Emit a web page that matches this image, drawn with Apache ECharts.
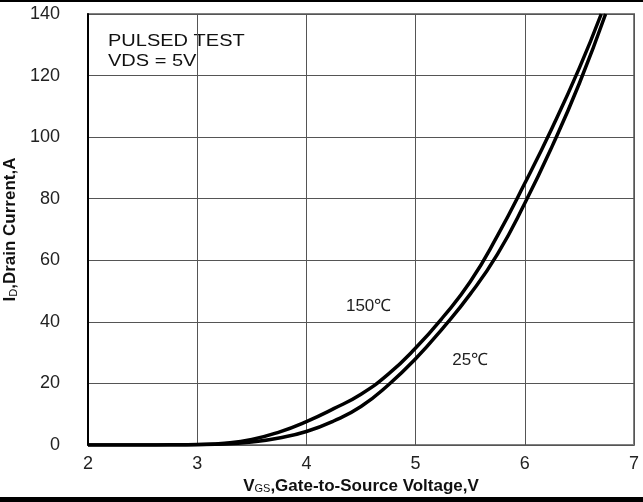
<!DOCTYPE html>
<html>
<head>
<meta charset="utf-8">
<script src="https://cdn.jsdelivr.net/npm/echarts@6/dist/echarts.min.js"></script>
<style>
  html, body { margin: 0; padding: 0; background: #fff; }
  #chart { width: 643px; height: 502px; }
</style>
</head>
<body>
<div id="chart"></div>
<script>
// transfer characteristics
var vgs150 = [2, 2.25, 2.5, 2.75, 3, 3.25, 3.5, 3.75, 4, 4.25, 4.5, 4.75, 5, 5.25, 5.5, 5.75, 6, 6.25, 6.5, 6.7];
var id150 = [0, 0, 0, 0.05, 0.2, 0.6, 1.8, 4.2, 7.6, 11.8, 16.5, 23, 31.5, 41.5, 53, 68, 85, 103, 122.5, 140];
var vgs25 = [2, 2.25, 2.5, 2.75, 3, 3.25, 3.5, 3.75, 4, 4.25, 4.5, 4.75, 5, 5.25, 5.5, 5.75, 6, 6.25, 6.5, 6.74];
var id25 = [0, 0, 0, 0.02, 0.1, 0.3, 1, 2.3, 4.4, 7.8, 12.5, 19.5, 28, 38, 49, 62, 78.5, 97, 117.5, 140];
var xTicks = [2, 3, 4, 5, 6, 7];
var yTicks = [0, 20, 40, 60, 80, 100, 120, 140];
var tempLabels = [
  { name: "150℃", coord: [4.57, 45] },
  { name: "25℃", coord: [5.5, 27.5] }
];

function pairs(xs, ys) {
  return xs.map(function (x, i) { return [x, ys[i]]; });
}

var chart = echarts.init(document.getElementById("chart"));
var font = "'Liberation Sans', Arial, sans-serif";

chart.setOption({
  animation: false,
  grid: {
    left: 88,
    right: 9,
    top: 14,
    bottom: 57,
    outerBoundsMode: "none",
    containLabel: false,
    show: true,
    borderColor: "#808080",
    borderWidth: 2
  },
  xAxis: {
    type: "value",
    min: xTicks[0],
    max: xTicks[xTicks.length - 1],
    interval: 1,
    axisLine: { show: false },
    axisTick: { show: false },
    splitLine: { lineStyle: { color: "#555", width: 1 } },
    axisLabel: { color: "#222", fontSize: 18, fontFamily: font, margin: 10 },
    name: "{b|V}{s|GS}{b|,Gate-to-Source Voltage,V}",
    nameLocation: "middle",
    nameGap: 31,
    nameTextStyle: {
      rich: {
        b: { fontSize: 17, fontWeight: "bold", fontFamily: font, color: "#111" },
        s: { fontSize: 11, fontFamily: font, color: "#111", padding: [6, 0, 0, 0] }
      }
    }
  },
  yAxis: {
    type: "value",
    min: yTicks[0],
    max: yTicks[yTicks.length - 1],
    interval: 20,
    axisLine: { show: true, lineStyle: { color: "#000", width: 2 } },
    axisTick: { show: false },
    splitLine: { lineStyle: { color: "#555", width: 1 } },
    axisLabel: { color: "#222", fontSize: 18, fontFamily: font, margin: 28 },
    name: "{b|I}{s|D}{b|,Drain Current,A}",
    nameLocation: "middle",
    nameGap: 62,
    nameTextStyle: {
      rich: {
        b: { fontSize: 17, fontWeight: "bold", fontFamily: font, color: "#111" },
        s: { fontSize: 11, fontFamily: font, color: "#111", padding: [6, 0, 0, 0] }
      }
    }
  },
  series: [
    {
      name: "150C",
      type: "line",
      smooth: 0.5,
      showSymbol: false,
      data: pairs(vgs150, id150),
      lineStyle: { color: "#000", width: 3.5 },
      markPoint: {
        symbol: "rect",
        symbolSize: 0,
        label: { show: true, position: "inside", formatter: "{b}", color: "#222", fontSize: 17, fontFamily: font },
        data: [tempLabels[0]]
      }
    },
    {
      name: "25C",
      type: "line",
      smooth: 0.5,
      showSymbol: false,
      data: pairs(vgs25, id25),
      lineStyle: { color: "#000", width: 3.5 },
      markPoint: {
        symbol: "rect",
        symbolSize: 0,
        label: { show: true, position: "inside", formatter: "{b}", color: "#222", fontSize: 17, fontFamily: font },
        data: [tempLabels[1]]
      }
    }
  ],
  graphic: [
    { type: "rect", left: 0, top: 0, shape: { width: 643, height: 2 }, style: { fill: "#000" } },
    { type: "rect", left: 0, top: 497, shape: { width: 643, height: 5 }, style: { fill: "#000" } },
    {
      type: "group",
      left: 100,
      top: 28,
      z: 100,
      children: [
        { type: "rect", shape: { width: 185, height: 51 }, style: { fill: "#fff" } },
        {
          type: "text",
          x: 8,
          y: 4,
          scaleX: 1.25,
          style: {
            text: "PULSED TEST\nVDS = 5V",
            font: "16px " + font,
            lineHeight: 20,
            fill: "#111"
          }
        }
      ]
    }
  ]
});
</script>
</body>
</html>
